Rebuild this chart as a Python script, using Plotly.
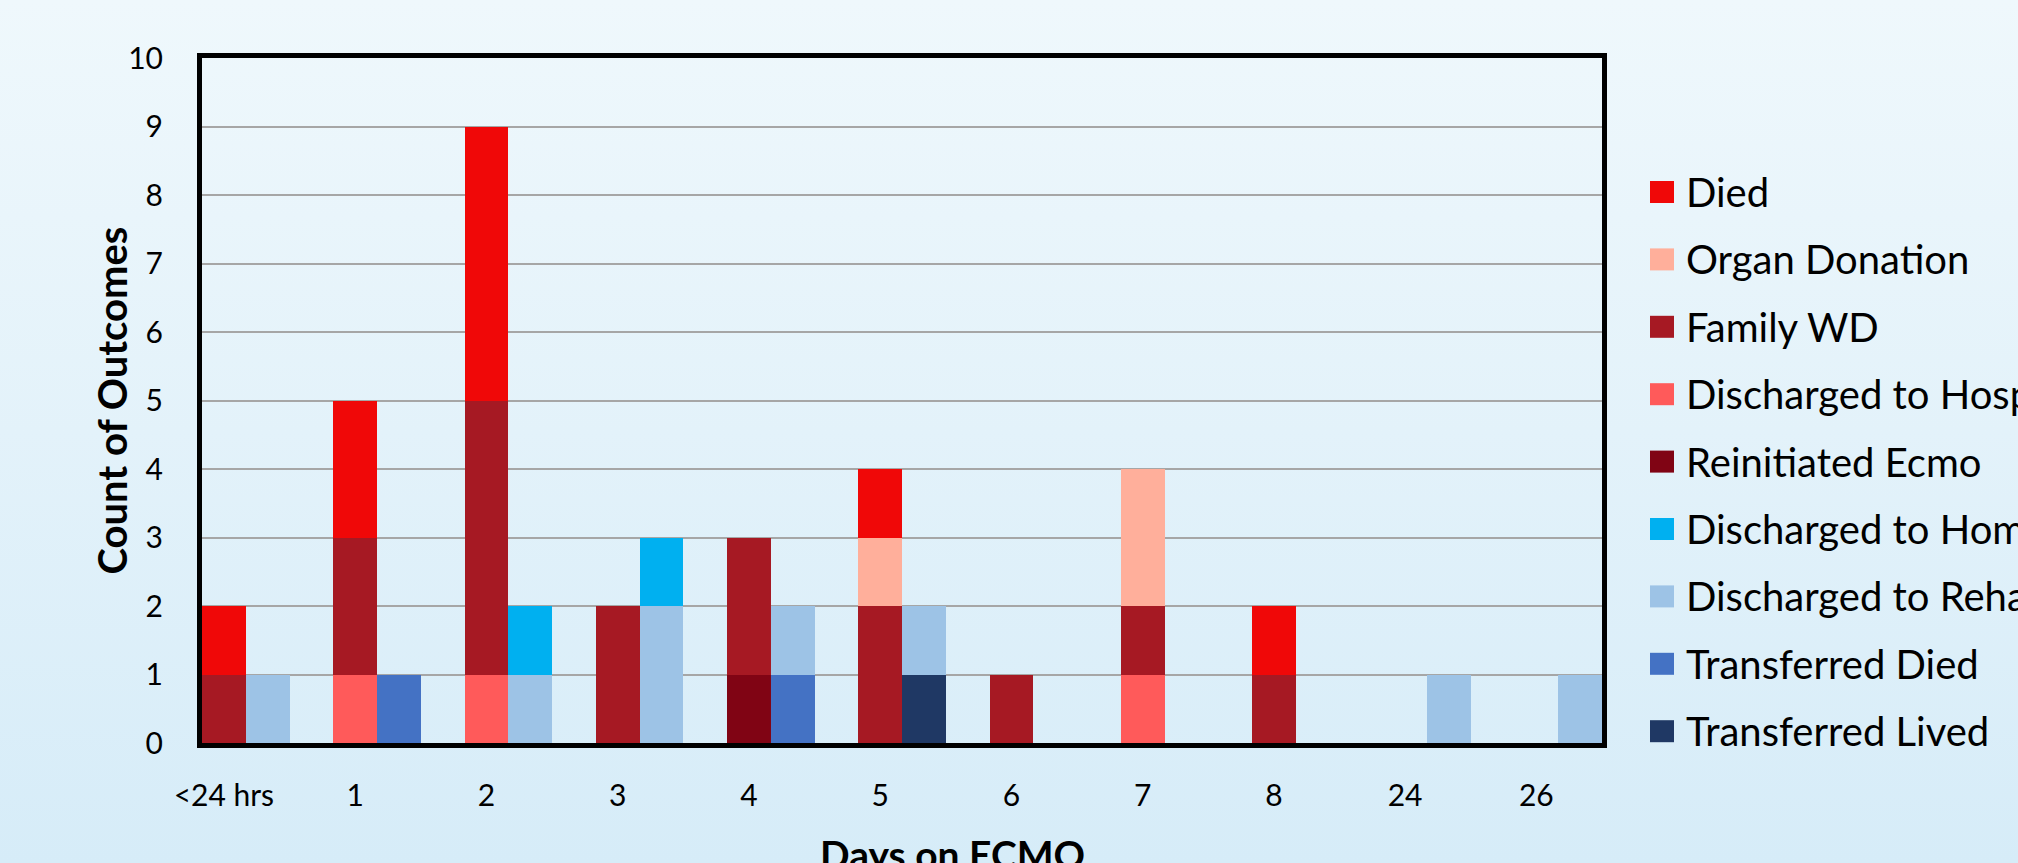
import base64
import plotly.graph_objects as go

# ---------------- data ----------------
categories = ["<24 hrs", "1", "2", "3", "4", "5", "6", "7", "8", "24", "26"]

# left (non-survivor) stack, bottom -> top
disch_hospice = [0, 1, 1, 0, 0, 0, 0, 1, 0, 0, 0]
reinitiated_ecmo = [0, 0, 0, 0, 1, 0, 0, 0, 0, 0, 0]
family_wd = [1, 2, 4, 2, 2, 2, 1, 1, 1, 0, 0]
organ_donation = [0, 0, 0, 0, 0, 1, 0, 2, 0, 0, 0]
died = [1, 2, 4, 0, 0, 1, 0, 0, 1, 0, 0]

# right stack, bottom -> top
transferred_lived = [0, 0, 0, 0, 0, 1, 0, 0, 0, 0, 0]
transferred_died = [0, 1, 0, 0, 1, 0, 0, 0, 0, 0, 0]
disch_rehab = [1, 0, 1, 2, 1, 1, 0, 0, 0, 1, 1]
disch_home = [0, 0, 1, 1, 0, 0, 0, 0, 0, 0, 0]

left_series = [
    ("Discharged to Hospice", disch_hospice, "#FF5A5A"),
    ("Reinitiated Ecmo", reinitiated_ecmo, "#800414"),
    ("Family WD", family_wd, "#A61923"),
    ("Organ Donation", organ_donation, "#FFAF9B"),
    ("Died", died, "#F00808"),
]
right_series = [
    ("Transferred Lived", transferred_lived, "#1F3864"),
    ("Transferred Died", transferred_died, "#4472C4"),
    ("Discharged to Rehab", disch_rehab, "#9DC3E6"),
    ("Discharged to Home", disch_home, "#00B0F0"),
]
legend_order = ["Died", "Organ Donation", "Family WD", "Discharged to Hospice",
                "Reinitiated Ecmo", "Discharged to Home", "Discharged to Rehab",
                "Transferred Died", "Transferred Lived"]

# ---------------- layout geometry ----------------
W, H = 2018, 863
ML, MR, MT, MB = 202, 416, 58, 120
PW, PH = W - ML - MR, H - MT - MB
FONT = "Lato, Carlito, Calibri, sans-serif"


def pxx(px):
    return (px - ML) / PW


def pxy(py):
    return (H - MB - py) / PH


n = len(categories)
left_x = [3 * i for i in range(n)]
right_x = [3 * i + 1 for i in range(n)]

fig = go.Figure()
color_of = {}
for name, vals, col in left_series:
    color_of[name] = col
    fig.add_trace(go.Bar(x=left_x, y=vals, name=name, width=1,
                         marker=dict(color=col, line=dict(width=0)), showlegend=False))
for name, vals, col in right_series:
    color_of[name] = col
    fig.add_trace(go.Bar(x=right_x, y=vals, name=name, width=1,
                         marker=dict(color=col, line=dict(width=0)), showlegend=False))

# background gradient
svg = ('<svg xmlns="http://www.w3.org/2000/svg" width="2018" height="863" preserveAspectRatio="none">'
       '<defs><linearGradient id="g" x1="0" y1="0" x2="0" y2="1">'
       '<stop offset="0" stop-color="#EFF8FC"/><stop offset="0.5" stop-color="#E3F2FA"/>'
       '<stop offset="1" stop-color="#D6ECF8"/></linearGradient></defs>'
       '<rect width="2018" height="863" fill="url(#g)"/></svg>')
src = "data:image/svg+xml;base64," + base64.b64encode(svg.encode()).decode()

shapes = []
annotations = []
row0, step = 192, 67.4
for k, name in enumerate(legend_order):
    cy = row0 + k * step
    shapes.append(dict(type="rect", xref="paper", yref="paper",
                       x0=pxx(1650), x1=pxx(1674), y0=pxy(cy + 11), y1=pxy(cy - 11),
                       fillcolor=color_of[name], line=dict(width=0)))
    annotations.append(dict(text=name, xref="paper", yref="paper", x=pxx(1684), y=pxy(cy),
                            xanchor="left", yanchor="middle", showarrow=False,
                            font=dict(family=FONT, size=40, color="#000000")))

annotations.append(dict(text="<b>Count of Outcomes</b>", xref="paper", yref="paper",
                        x=pxx(111), y=0.5, xanchor="center", yanchor="middle", textangle=-90,
                        showarrow=False, font=dict(family=FONT, size=40, color="#000000")))
annotations.append(dict(text="<b>Days on ECMO</b>", xref="paper", yref="paper",
                        x=pxx(952), y=pxy(829), xanchor="center", yanchor="top",
                        showarrow=False, font=dict(family=FONT, size=39, color="#000000")))

fig.update_layout(
    width=W, height=H,
    margin=dict(l=ML, r=MR, t=MT, b=MB, pad=0),
    barmode="stack", bargap=0,
    paper_bgcolor="#E3F2FA", plot_bgcolor="rgba(0,0,0,0)",
    showlegend=False,
    font=dict(family=FONT, color="#000000"),
    images=[dict(source=src, xref="paper", yref="paper", x=-ML / PW, y=1 + MT / PH,
                 sizex=W / PW, sizey=H / PH, sizing="stretch", layer="below",
                 xanchor="left", yanchor="top")],
    shapes=shapes,
    annotations=annotations,
    xaxis=dict(range=[-0.5, 3 * n - 1.5], tickmode="array", tickvals=left_x, ticktext=categories,
               showgrid=False, zeroline=False, showline=True, linecolor="#000000", linewidth=5,
               mirror=True, ticks="", ticklabelstandoff=22,
               tickfont=dict(family=FONT, size=30, color="#000000")),
    yaxis=dict(range=[0, 10], dtick=1, showgrid=True, gridcolor="#A6A6A6", gridwidth=1.5,
               zeroline=False, showline=True, linecolor="#000000", linewidth=5, mirror=True,
               ticks="", ticklabelstandoff=28,
               tickfont=dict(family=FONT, size=30, color="#000000")),
)

fig.write_html("out.html", config={"displayModeBar": False},
               post_script="document.body.style.margin='0';document.body.style.overflow='hidden';")
